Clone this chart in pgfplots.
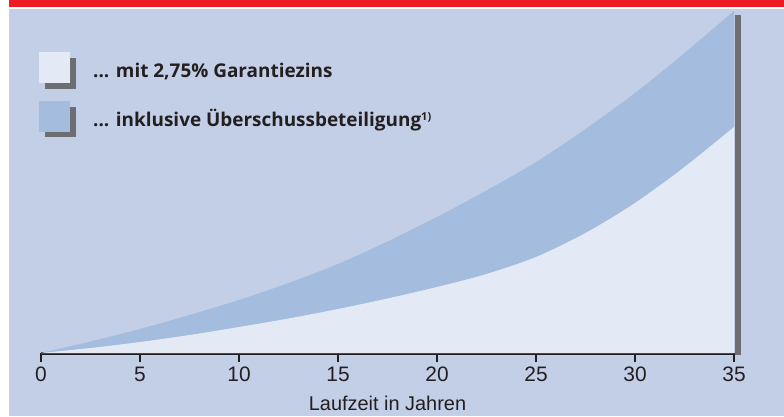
\documentclass[border=0pt]{standalone}
\usepackage{pgfplots}
\pgfplotsset{compat=1.18}
\usepackage{fontspec}
\setmainfont{Liberation Sans}
\newfontfamily\legfont{Open Sans}
\definecolor{bgblue}{HTML}{C3CFE6}
\definecolor{bandblue}{HTML}{A4BCDD}
\definecolor{lightfill}{HTML}{E4EAF5}
\definecolor{redbar}{HTML}{ED1C24}
\definecolor{shadowgrey}{HTML}{6D6E71}
\definecolor{axisblack}{HTML}{231F20}

\pgfplotstableread{
x y
0 0
2.5 11.5
5 24
7.5 38
10 53
12.5 70
15 89
17.5 111.5
20 136
22.5 162.5
25 191
27.5 224
30 260
32.5 300
35 342
}\uppertab

\pgfplotstableread{
x y
0 0
2.5 5
5 11
7.5 18
10 26
12.5 34.5
15 44
17.5 54.5
20 66
22.5 79
25 96
27.5 120
30 150
32.5 186
35 226
}\lowertab

\begin{document}
\begin{tikzpicture}[x=1bp,y=1bp]
\fill[white] (0,0) rectangle (784,416);
\fill[bgblue] (9,0) rectangle (784,407);
\fill[redbar] (9,409) rectangle (784,416);
% legend
\fill[shadowgrey] (45,327) rectangle (76,358);
\fill[lightfill] (39,333) rectangle (70,364);
\fill[shadowgrey] (45,279) rectangle (76,309);
\fill[bandblue] (39,284) rectangle (70,315);
\node[anchor=base west, inner sep=0, text=axisblack, font=\legfont\bfseries\fontsize{19}{22}\selectfont] at (93,339) {... mit 2,75\% Garantiezins};
\node[anchor=base west, inner sep=0, text=axisblack, font=\legfont\bfseries\fontsize{19}{22}\selectfont] at (93,290) {... inklusive Überschussbeteiligung\raisebox{0.5ex}{\fontsize{11}{12}\selectfont 1)}};

\begin{axis}[
  at={(41bp,63bp)}, anchor=origin,
  scale only axis, width=693bp, height=344bp,
  xmin=0, xmax=35, ymin=0, ymax=344,
  axis y line=none, axis x line=bottom,
  x axis line style={line width=3bp, color=axisblack, -},
  xtick={0,5,...,35},
  tick align=outside, major tick length=9bp,
  every tick/.style={line width=2bp, color=axisblack},
  /pgf/number format/assume math mode=true,
  xticklabel style={font=\fontsize{21}{24}\selectfont, text=axisblack, yshift=-1.5bp},
  xlabel={Laufzeit in Jahren},
  xlabel style={font=\fontsize{20}{24}\selectfont, text=axisblack, yshift=-7bp},
  clip=true,
]
\addplot[fill=bandblue, draw=none, smooth, tension=0.5] table {\uppertab} \closedcycle;
\addplot[fill=lightfill, draw=none, smooth, tension=0.5] table {\lowertab} \closedcycle;
\end{axis}
\fill[shadowgrey] (735,61) rectangle (741,401);
\pgfresetboundingbox
\useasboundingbox (0,0) rectangle (784,416);
\end{tikzpicture}
\end{document}
